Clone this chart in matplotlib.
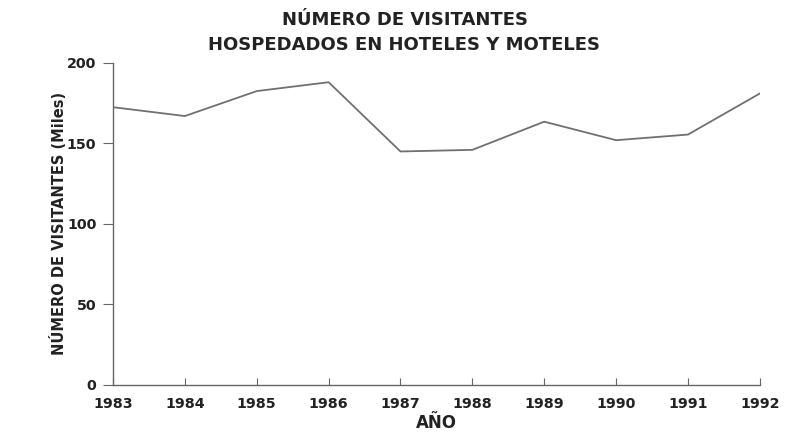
import matplotlib
matplotlib.use("Agg")
import matplotlib.pyplot as plt

years = [1983, 1984, 1985, 1986, 1987, 1988, 1989, 1990, 1991, 1992]
visitors = [172.5, 167, 182.5, 188, 145, 146, 163.5, 152, 155.5, 181]
yticks = [0, 50, 100, 150, 200]

plt.rcParams['font.family'] = ['DejaVu Sans']

fig = plt.figure(figsize=(8.09, 4.43), dpi=100)
ax = fig.add_axes([0.1397, 0.131, 0.7995, 0.727])
ax.plot(years, visitors, color='#707070', linewidth=1.3)
ax.set_xlim(1983, 1992)
ax.set_ylim(0, 200)
ax.set_xticks(years)
ax.set_yticks(yticks)
ax.spines['top'].set_visible(False)
ax.spines['right'].set_visible(False)
for s in ['left', 'bottom']:
    ax.spines[s].set_color('#666666')
    ax.spines[s].set_linewidth(1.0)
ax.tick_params(axis='x', direction='in', length=5, color='#666666', pad=9,
               labelsize=10.3, labelcolor='#222222')
ax.tick_params(axis='y', direction='out', length=7, color='#666666', pad=5,
               labelsize=10.3, labelcolor='#222222')
for lab in ax.get_xticklabels() + ax.get_yticklabels():
    lab.set_fontweight('bold')
ax.set_xlabel('AÑO', fontsize=12, fontweight='bold', color='#222222', labelpad=2)
ax.set_ylabel('NÚMERO DE VISITANTES (Miles)', fontsize=10.5, fontweight='bold',
              color='#222222', labelpad=0)
fig.text(0.5, 0.955, 'NÚMERO DE VISITANTES', ha='center', va='center',
         fontsize=13, fontweight='bold', color='#222222')
fig.text(0.5, 0.898, 'HOSPEDADOS EN HOTELES Y MOTELES', ha='center', va='center',
         fontsize=13, fontweight='bold', color='#222222')
fig.savefig('out.png', dpi=100)
